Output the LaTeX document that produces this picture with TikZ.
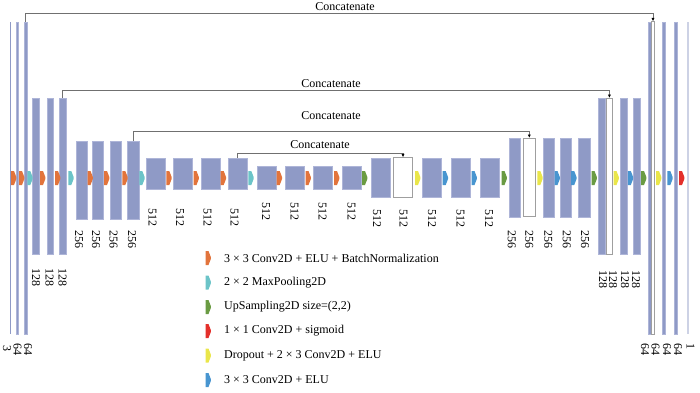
\documentclass[tikz,border=0pt]{standalone}
\usepackage{fontspec}
\setmainfont{Liberation Serif}
\usetikzlibrary{arrows.meta}
\definecolor{BarBlue}{HTML}{8F9AC6}
\definecolor{BarEdge}{HTML}{AEB5D8}
\definecolor{MkOrange}{HTML}{E2743C}
\definecolor{MkCyan}{HTML}{6CC4C8}
\definecolor{MkGreen}{HTML}{6A9B43}
\definecolor{MkRed}{HTML}{E4302B}
\definecolor{MkYellow}{HTML}{EAE64A}
\definecolor{MkBlue}{HTML}{4895D0}
\definecolor{LineGray}{HTML}{707070}

\begin{document}
\begin{tikzpicture}[
  x=1pt, y=-1pt,
  bar/.style={draw=BarEdge, fill=BarBlue, line width=0.4pt, inner sep=0pt},
  skip/.style={draw=gray!75, fill=white, line width=0.6pt, inner sep=0pt},
  thin/.style={fill=BarBlue, inner sep=0pt, minimum width=1.2pt, minimum height=312pt},
  dim/.style={rotate=-90, anchor=west, inner sep=0pt, font=\fontsize{12}{14}\selectfont},
  tag/.style={inner sep=0pt, font=\fontsize{12}{14}\selectfont},
  concat/.style={LineGray, line width=0.7pt, -{Latex[length=3.5pt,width=3.2pt,color=black]}},
  mk/.pic={\fill[pic actions] (0,-7) -- (3,-7) -- (5.4,-0.8) -- (5.4,0.8) -- (3,7) -- (0,7) -- cycle;}
]
\useasboundingbox (0,0) rectangle (700,392);

% encoder
\node[thin] (l1) at (10.3,178) {};
\node[bar, minimum width=2.4pt, minimum height=312pt] (l2) at (17.2,178) {};
\node[bar, minimum width=2.4pt, minimum height=312pt] (l3) at (25.5,178) {};
\node[bar, minimum width=6.7pt, minimum height=156pt] (e128a) at (35.8,176.3) {};
\node[bar, minimum width=6.7pt, minimum height=156pt] (e128b) at (50.2,176.3) {};
\node[bar, minimum width=6.7pt, minimum height=156pt] (e128c) at (62.7,176.3) {};
\node[bar, minimum width=11.4pt, minimum height=78.3pt] (e256a) at (81.7,180.2) {};
\node[bar, minimum width=11.4pt, minimum height=78.3pt] (e256b) at (97.7,180.2) {};
\node[bar, minimum width=11.4pt, minimum height=78.3pt] (e256c) at (115.7,180.2) {};
\node[bar, minimum width=11.4pt, minimum height=78.3pt] (e256d) at (133,180.2) {};
\node[bar, minimum width=19.3pt, minimum height=31.6pt] (e512a) at (155.7,173.5) {};
\node[bar, minimum width=19.3pt, minimum height=31.6pt] (e512b) at (183,173.5) {};
\node[bar, minimum width=19.3pt, minimum height=31.6pt] (e512c) at (210.4,173.5) {};
\node[bar, minimum width=19.3pt, minimum height=31.6pt] (e512d) at (237.7,173.5) {};
% bottleneck
\node[bar, minimum width=19.3pt, minimum height=23pt] (b512a) at (266.4,177.5) {};
\node[bar, minimum width=19.3pt, minimum height=23pt] (b512b) at (295,177.5) {};
\node[bar, minimum width=19.3pt, minimum height=23pt] (b512c) at (323,177.5) {};
\node[bar, minimum width=19.3pt, minimum height=23pt] (b512d) at (351.7,177.5) {};
% decoder
\node[bar, minimum width=19.3pt, minimum height=39.6pt] (d512a) at (380.4,177.5) {};
\node[skip, minimum width=19.3pt, minimum height=39.6pt] (d512w) at (403,177.5) {};
\node[bar, minimum width=19.3pt, minimum height=39.6pt] (d512b) at (432,177.5) {};
\node[bar, minimum width=19.3pt, minimum height=39.6pt] (d512c) at (460.7,177.5) {};
\node[bar, minimum width=19.3pt, minimum height=39.6pt] (d512d) at (489.7,177.5) {};
\node[bar, minimum width=11.4pt, minimum height=78.4pt] (d256a) at (514.9,177.5) {};
\node[skip, minimum width=11.4pt, minimum height=78.4pt] (d256w) at (529.3,177.5) {};
\node[bar, minimum width=11.4pt, minimum height=78.4pt] (d256b) at (548.8,177.5) {};
\node[bar, minimum width=11.4pt, minimum height=78.4pt] (d256c) at (565.5,177.5) {};
\node[bar, minimum width=11.4pt, minimum height=78.4pt] (d256d) at (584.2,177.5) {};
\node[bar, minimum width=6.7pt, minimum height=156pt] (d128a) at (601.7,176.3) {};
\node[skip, minimum width=6.7pt, minimum height=156pt] (d128w) at (609.4,176.3) {};
\node[bar, minimum width=6.7pt, minimum height=156pt] (d128b) at (623.9,176.3) {};
\node[bar, minimum width=6.7pt, minimum height=156pt] (d128c) at (636.7,176.3) {};
\node[bar, minimum width=3.1pt, minimum height=312.6pt] (d64a) at (649.7,178) {};
\node[skip, minimum width=3.1pt, minimum height=312.6pt] (d64w) at (653,178) {};
\node[bar, minimum width=2.7pt, minimum height=312.6pt] (d64b) at (663.7,178) {};
\node[bar, minimum width=2.7pt, minimum height=312.6pt] (d64c) at (675.4,178) {};
\node[thin, fill=BarBlue!45] (out) at (688,178) {};

% layer markers
\pic[fill=MkOrange] at (11,178) {mk};
\pic[fill=MkOrange] at (19,178) {mk};
\pic[fill=MkCyan] at (27.3,178) {mk};
\pic[fill=MkOrange] at (40,178) {mk};
\pic[fill=MkOrange] at (55,178) {mk};
\pic[fill=MkCyan] at (68.3,178) {mk};
\pic[fill=MkOrange] at (87.5,178) {mk};
\pic[fill=MkOrange] at (104,178) {mk};
\pic[fill=MkOrange] at (122.3,178) {mk};
\pic[fill=MkCyan] at (139.3,178) {mk};
\pic[fill=MkOrange] at (166.3,178) {mk};
\pic[fill=MkOrange] at (193.5,178) {mk};
\pic[fill=MkOrange] at (220.7,178) {mk};
\pic[fill=MkCyan] at (248.3,178) {mk};
\pic[fill=MkOrange] at (276.7,178) {mk};
\pic[fill=MkOrange] at (305.5,178) {mk};
\pic[fill=MkOrange] at (334,178) {mk};
\pic[fill=MkGreen] at (362,178) {mk};
\pic[fill=MkYellow] at (415,178) {mk};
\pic[fill=MkBlue] at (442.7,178) {mk};
\pic[fill=MkBlue] at (471.5,178) {mk};
\pic[fill=MkGreen] at (501.5,178) {mk};
\pic[fill=MkYellow] at (537.3,178) {mk};
\pic[fill=MkBlue] at (554.5,178) {mk};
\pic[fill=MkBlue] at (571.2,178) {mk};
\pic[fill=MkGreen] at (591.5,178) {mk};
\pic[fill=MkYellow] at (613.5,178) {mk};
\pic[fill=MkBlue] at (627.8,178) {mk};
\pic[fill=MkGreen] at (641,178) {mk};
\pic[fill=MkYellow] at (656,178) {mk};
\pic[fill=MkBlue] at (667.3,178) {mk};
\pic[fill=MkRed] at (679,178) {mk};

% channel counts
\node[dim] (n3) at (7,345) {3};
\node[dim] (n64a) at (17.5,343) {64};
\node[dim] (n64b) at (28,343) {64};
\node[dim] (n128a) at (36,268) {128};
\node[dim] (n128b) at (49.5,268) {128};
\node[dim] (n128c) at (62.5,268) {128};
\node[dim] (n256a) at (79,230) {256};
\node[dim] (n256b) at (96,230) {256};
\node[dim] (n256c) at (113.5,230) {256};
\node[dim] (n256d) at (132,230) {256};
\node[dim] (n512a) at (152.5,208) {512};
\node[dim] (n512b) at (180,208) {512};
\node[dim] (n512c) at (207.5,208) {512};
\node[dim] (n512d) at (234.5,208) {512};
\node[dim] (nb512a) at (266,202) {512};
\node[dim] (nb512b) at (294.5,202) {512};
\node[dim] (nb512c) at (322.5,202) {512};
\node[dim] (nb512d) at (351.5,202) {512};
\node[dim] (nd512a) at (377,209) {512};
\node[dim] (nd512w) at (403.5,209) {512};
\node[dim] (nd512b) at (432,209) {512};
\node[dim] (nd512c) at (460.5,209) {512};
\node[dim] (nd512d) at (489,209) {512};
\node[dim] (nd256a) at (511.7,230) {256};
\node[dim] (nd256w) at (529.3,230) {256};
\node[dim] (nd256b) at (548.3,230) {256};
\node[dim] (nd256c) at (566.7,230) {256};
\node[dim] (nd256d) at (585,230) {256};
\node[dim] (nd128a) at (603,270) {128};
\node[dim] (nd128w) at (613,270) {128};
\node[dim] (nd128b) at (625,270) {128};
\node[dim] (nd128c) at (636,270) {128};
\node[dim] (nd64a) at (645,343) {64};
\node[dim] (nd64w) at (655.5,343) {64};
\node[dim] (nd64b) at (667,343) {64};
\node[dim] (nd64c) at (678,343) {64};
\node[dim] (nout) at (690.5,343) {1};

% skip connections
\draw[concat] (l3.north) -- (l3.north |- 0,13.3) -| (d64w.north);
\draw[concat] (e128c.north) -- (e128c.north |- 0,90) -| (d128w.north);
\draw[concat] (e256d.north) -- (e256d.north |- 0,131) -| (d256w.north);
\draw[concat] (e512d.north) -- (e512d.north |- 0,153.3) -| (d512w.north);
\node[tag] (cat1) at (345,7) {Concatenate};
\node[tag] (cat2) at (331,84) {Concatenate};
\node[tag] (cat3) at (331,116) {Concatenate};
\node[tag] (cat4) at (320,145) {Concatenate};

% legend
\pic[fill=MkOrange] at (205.5,258) {mk};
\pic[fill=MkCyan] at (205.5,282.5) {mk};
\pic[fill=MkGreen] at (205.5,307) {mk};
\pic[fill=MkRed] at (205.5,331) {mk};
\pic[fill=MkYellow] at (205.5,355.5) {mk};
\pic[fill=MkBlue] at (205.5,380) {mk};
\node[tag, anchor=west] (key1) at (224,258) {3 × 3 Conv2D + ELU + BatchNormalization};
\node[tag, anchor=west] (key2) at (224,282.5) {2 × 2 MaxPooling2D};
\node[tag, anchor=west] (key3) at (224,307) {UpSampling2D size=(2,2)};
\node[tag, anchor=west] (key4) at (224,331) {1 × 1 Conv2D + sigmoid};
\node[tag, anchor=west] (key5) at (224,355.5) {Dropout + 2 × 3 Conv2D + ELU};
\node[tag, anchor=west] (key6) at (224,380) {3 × 3 Conv2D + ELU};
\end{tikzpicture}
\end{document}
